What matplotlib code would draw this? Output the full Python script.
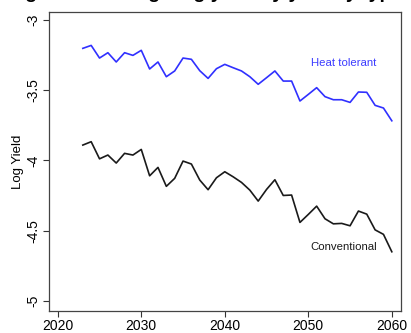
import matplotlib
matplotlib.use("Agg")
import matplotlib.pyplot as plt

years = list(range(2023, 2061))
heat_tolerant = [-3.202, -3.181, -3.271, -3.233, -3.299, -3.233, -3.252, -3.216,
                 -3.349, -3.299, -3.404, -3.363, -3.271, -3.280, -3.361, -3.416,
                 -3.347, -3.316, -3.340, -3.363, -3.404, -3.458, -3.411, -3.363,
                 -3.435, -3.435, -3.577, -3.530, -3.482, -3.546, -3.568, -3.568,
                 -3.587, -3.513, -3.515, -3.608, -3.627, -3.718]
conventional = [-3.891, -3.867, -3.989, -3.962, -4.019, -3.950, -3.962, -3.922,
                -4.110, -4.050, -4.185, -4.128, -4.005, -4.026, -4.140, -4.209,
                -4.124, -4.081, -4.117, -4.157, -4.212, -4.290, -4.207, -4.138,
                -4.250, -4.247, -4.442, -4.385, -4.326, -4.416, -4.452, -4.449,
                -4.466, -4.361, -4.383, -4.495, -4.527, -4.651]
x_ticks = [2020, 2030, 2040, 2050, 2060]
y_ticks = [-3, -3.5, -4, -4.5, -5]
y_ticklabels = ["-3", "-3.5", "-4", "-4.5", "-5"]

plt.rcParams['font.family'] = ['Liberation Sans', 'DejaVu Sans']

fig = plt.figure(figsize=(4.11, 3.33), dpi=100)
ax = fig.add_axes([49/411, 1 - 311/333, (401-49)/411, (311-12)/333])

ax.plot(years, heat_tolerant, color='#3030ff', lw=1.2)
ax.plot(years, conventional, color='#1a1a1a', lw=1.2)

ax.text(2054.2, -3.306, "Heat tolerant", color='#3c3cff', fontsize=8.2,
        ha='center', va='center')
ax.text(2054.2, -4.616, "Conventional", color='#1a1a1a', fontsize=8.2,
        ha='center', va='center')

ax.set_xlim(2018.95, 2061.1)
ax.set_ylim(-5.073, -2.943)
ax.set_xticks(x_ticks)
ax.set_xticklabels([str(v) for v in x_ticks], fontsize=10)
ax.set_yticks(y_ticks)
ax.set_yticklabels(y_ticklabels, fontsize=10, rotation=90, va='center')
ax.tick_params(axis='both', length=4, width=0.8, color='#333333', pad=2)
ax.set_ylabel("Log Yield", fontsize=9.5, labelpad=2)
for s in ax.spines.values():
    s.set_color('#444444')
    s.set_linewidth(0.9)

fig.text(0.5, 1.046, "Figure 2: Average log yield by year by type", fontsize=14,
         fontweight='bold', ha='center', va='top')

fig.savefig("out.png", dpi=100)
